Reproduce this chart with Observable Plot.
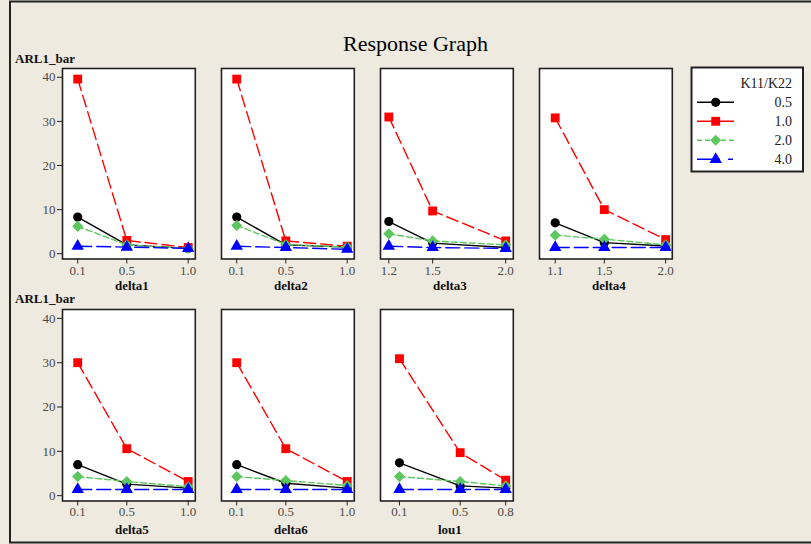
<!DOCTYPE html>
<html><head><meta charset="utf-8">
<script src="https://cdn.jsdelivr.net/npm/d3@7"></script>
<script src="https://cdn.jsdelivr.net/npm/@observablehq/plot@0.6"></script>
<style>
html,body{margin:0;padding:0;background:#EEEAE0;}
#wrap{position:relative;width:811px;height:544px;overflow:hidden;background:#EEEAE0;font-family:"Liberation Serif","Times New Roman",serif;}
#bg{position:absolute;left:0;top:0;}
.panel{position:absolute;}
</style>
</head><body>
<div id="wrap"></div>
<script>
// ---- data ----
const chartTitle = "Response Graph";
const yLabel = "ARL1_bar";
const legendTitle = "K11/K22";
const seriesLabels = ["0.5", "1.0", "2.0", "4.0"];
const factorNames = ["delta1", "delta2", "delta3", "delta4", "delta5", "delta6", "lou1"];
const factorLevels = [
  [0.1, 0.5, 1.0], [0.1, 0.5, 1.0], [1.2, 1.5, 2.0], [1.1, 1.5, 2.0],
  [0.1, 0.5, 1.0], [0.1, 0.5, 1.0], [0.1, 0.5, 0.8]
];
const arl_k05 = [[8.3, 2.0, 1.2], [8.3, 2.0, 1.5], [7.3, 2.4, 1.4], [7.0, 2.5, 1.75], [7.0, 2.6, 1.7], [7.0, 2.8, 1.7], [7.4, 2.2, 1.7]];
const arl_k10 = [[39.6, 3.0, 1.4], [39.6, 2.9, 1.7], [31.0, 9.7, 2.9], [30.8, 10.0, 3.2], [30.0, 10.6, 3.2], [30.0, 10.6, 3.2], [30.9, 9.7, 3.5]];
const arl_k20 = [[6.2, 2.0, 1.2], [6.4, 2.1, 1.5], [4.5, 2.9, 2.0], [4.2, 3.3, 2.0], [4.3, 3.2, 2.0], [4.3, 3.4, 2.3], [4.3, 3.2, 2.2]];
const arl_k40 = [[1.7, 1.5, 1.2], [1.7, 1.4, 1.0], [1.7, 1.4, 1.2], [1.4, 1.4, 1.4], [1.4, 1.4, 1.4], [1.4, 1.4, 1.4], [1.4, 1.4, 1.4]];
const yTicks = [0, 10, 20, 30, 40];

// ---- styles / layout ----
const seriesValues = [arl_k05, arl_k10, arl_k20, arl_k40];
const colors = ["#000000", "#FF0000", "#5CC75C", "#0000FF"];
const dashes = [null, "12,5", "6,3", "14,5"];
const symbols = ["circle", "square", "diamond2", "triangle"];
const radii = [4.6, 5, 5, 4.6];
const xDomains = [[-0.024, 1.058], [-0.024, 1.058], [1.143, 2.052], [0.972, 2.054], [-0.024, 1.058], [-0.024, 1.058], [-0.025, 0.85]];
const yDomain = [-1.2, 42];
const colLeft = [62, 221, 380, 539.3];
const rowTop = [68, 309];
const rowH = [190.5, 191.5];
const boxW = 132.8;
const mL = 40, mR = 6, mT = 4, mB = 40;
const labelDy = [31, 33];
const tickPad = [2, 1];
const serif = "'Liberation Serif','Times New Roman',serif";

const wrap = document.getElementById("wrap");

// background svg: frame, title, y labels, legend
const bg = d3.select(wrap).append("svg").attr("id", "bg").attr("width", 811).attr("height", 544)
  .style("font-family", serif);
bg.append("rect").attr("x", 10).attr("y", 1.5).attr("width", 900).attr("height", 541)
  .attr("fill", "none").attr("stroke", "#222").attr("stroke-width", 2);
bg.append("text").attr("x", 415.5).attr("y", 51).attr("text-anchor", "middle")
  .attr("font-size", 22).attr("fill", "#000").text(chartTitle);
[62.5, 302.5].forEach(y => {
  bg.append("text").attr("x", 15).attr("y", y).attr("font-size", 13).attr("font-weight", "bold")
    .attr("fill", "#111").text(yLabel);
});

// legend
const lg = bg.append("g");
lg.append("rect").attr("x", 691.5).attr("y", 67.5).attr("width", 111.5).attr("height", 104)
  .attr("fill", "#fff").attr("stroke", "#222").attr("stroke-width", 2);
lg.append("text").attr("x", 792).attr("y", 87.5).attr("text-anchor", "end").attr("font-size", 14)
  .attr("fill", "#222").text(legendTitle);
const d3sym = {circle: d3.symbolCircle, square: d3.symbolSquare, diamond2: d3.symbolDiamond2, triangle: d3.symbolTriangle};
const legendDash = [null, null, "5,3", "23,8,5"];
seriesLabels.forEach((lab, k) => {
  const cy = 102.3 + k * 19;
  lg.append("line").attr("x1", 697).attr("x2", 734).attr("y1", cy).attr("y2", cy)
    .attr("stroke", colors[k]).attr("stroke-width", 1.5)
    .attr("stroke-dasharray", legendDash[k]);
  lg.append("path").attr("transform", `translate(715.7,${cy})`)
    .attr("d", d3.symbol(d3sym[symbols[k]], Math.PI * radii[k] * radii[k])())
    .attr("fill", colors[k]);
  lg.append("text").attr("x", 792).attr("y", cy + 4.8).attr("text-anchor", "end")
    .attr("font-size", 14).attr("fill", "#222").text(lab);
});

// panels
factorNames.forEach((name, i) => {
  const row = i < 4 ? 0 : 1, col = i % 4;
  const levels = factorLevels[i];
  const marks = [Plot.frame({fill: "#fff"})];
  seriesValues.forEach((vals, k) => {
    const data = levels.map((x, j) => ({x, y: vals[i][j]}));
    marks.push(Plot.line(data, {x: "x", y: "y", stroke: colors[k], strokeWidth: 1.4, strokeDasharray: dashes[k]}));
    marks.push(Plot.dot(data, {x: "x", y: "y", symbol: symbols[k], r: radii[k], fill: colors[k], stroke: "none"}));
  });
  marks.push(Plot.frame({stroke: "#222", strokeWidth: 1.6}));
  marks.push(Plot.axisX({ticks: levels, tickFormat: d3.format(".1f"), tickSize: 5, tickPadding: tickPad[row],
    fontSize: 13, fill: "#4a4a4a", stroke: "#222", label: null}));
  if (col === 0) {
    marks.push(Plot.axisY({ticks: yTicks, tickSize: 5, tickPadding: 2, fontSize: 13,
      fill: "#4a4a4a", stroke: "#222", label: null}));
  }
  marks.push(Plot.text([name], {frameAnchor: "bottom", dy: labelDy[row], dx: 3, text: d => d,
    fontWeight: "bold", fontSize: 13, fill: "#111"}));
  const h = rowH[row];
  const svg = Plot.plot({
    width: mL + boxW + mR,
    height: mT + h + mB,
    marginLeft: mL, marginRight: mR, marginTop: mT, marginBottom: mB,
    x: {domain: xDomains[i], axis: null},
    y: {domain: yDomain, axis: null},
    style: {fontFamily: serif, fontSize: "13px", background: "transparent", overflow: "visible"},
    marks
  });
  svg.classList.add("panel");
  svg.style.left = (colLeft[col] - mL) + "px";
  svg.style.top = (rowTop[row] - mT) + "px";
  svg.style.position = "absolute";
  wrap.appendChild(svg);
});
</script>
</body></html>
